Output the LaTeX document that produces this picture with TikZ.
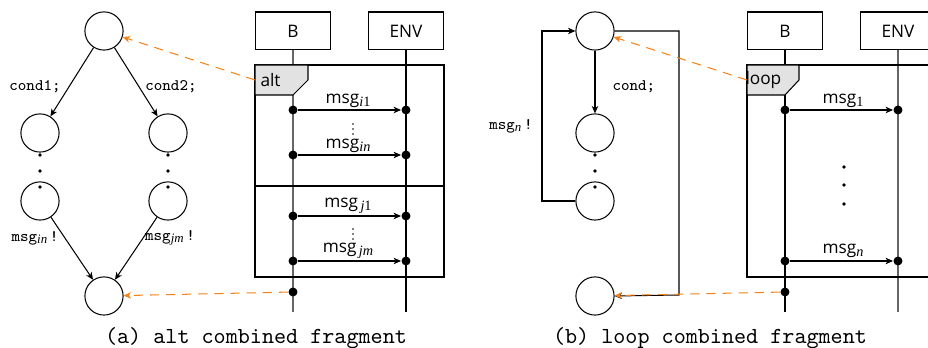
\documentclass[tikz,border=0pt]{standalone}
\usepackage{fontspec}
\newfontfamily\diagsans{Open Sans}
\newfontfamily\subserif{Liberation Serif}
\newcommand\msub[1]{\raisebox{-1.3pt}{\subserif\fontsize{6.2}{7}\selectfont #1}}
\newcommand\tsub[1]{\raisebox{-1.1pt}{\subserif\fontsize{5.6}{6}\selectfont #1}}
\usetikzlibrary{arrows.meta}
\definecolor{dashorange}{RGB}{245,130,25}
\definecolor{tagfill}{RGB}{226,226,226}
\begin{document}
\begin{tikzpicture}[x=0.4348pt,y=-0.4348pt,line width=0.45pt,
  state/.style={draw,circle,minimum size=16.6pt,inner sep=0pt},
  lifebox/.style={draw,minimum width=33pt,minimum height=16.5pt,inner sep=0pt,font=\diagsans\fontsize{7.5}{9}\selectfont},
  arr/.style={-{Stealth[length=3.2pt,width=2.8pt,inset=0.9pt]}},
  orangearr/.style={dashorange,dash pattern=on 4pt off 3pt,-{Stealth[length=3.2pt,width=2.8pt,inset=0.9pt]}},
  lifedot/.style={circle,fill,inner sep=0pt,minimum size=3.9pt},
  smalldot/.style={circle,fill,inner sep=0pt,minimum size=1.7pt},
  tinydot/.style={circle,fill,inner sep=0pt,minimum size=0.8pt},
  ttlab/.style={font=\ttfamily\scriptsize,inner sep=0pt},
  msglab/.style={font=\diagsans\fontsize{7.5}{9}\selectfont,inner sep=0pt},
  caption/.style={font=\ttfamily\normalsize,inner sep=0pt},
  grayline/.style={draw=black!60,line width=0.6pt}
]
\useasboundingbox (0,0) rectangle (928,348);

% ================= Panel (a): automaton =================
\node[state] (ta) at (104,31) {};
\node[state] (l1) at (40,133) {};
\node[state] (l2) at (40,201) {};
\node[state] (r1) at (168,133) {};
\node[state] (r2) at (168,201) {};
\node[state] (ba) at (104,296) {};
\foreach \y/\n in {155/1,171/2,187/3}{
  \node[smalldot] (dl\n) at (40,\y) {};
  \node[smalldot] (dr\n) at (168,\y) {};
}
\draw[arr] (ta) -- (l1);
\draw[arr] (ta) -- (r1);
\draw[arr] (l2) -- (ba);
\draw[arr] (r2) -- (ba);
\node[ttlab] (c1) at (35,87) {cond1;};
\node[ttlab] (c2) at (171,87) {cond2;};
\node[ttlab] (mi) at (35,238) {msg\tsub{\itshape in}\,!};
\node[ttlab] (mj) at (170,238) {msg\tsub{\itshape jm}\,!};

% ================= Panel (a): sequence diagram =================
\node[lifebox] (Ba) at (293,31) {B};
\node[lifebox] (Ea) at (406,31) {ENV};
\coordinate (Baend) at (293,312);
\coordinate (Eaend) at (406,312);
\draw[grayline] (Ba.south) -- (Baend);
\draw (Ea.south) -- (Eaend);
\draw (255,65) rectangle (444,277);
\draw[fill=tagfill] (255,65) -- (308,65) -- (308,80) -- (293,95) -- (255,95) -- cycle;
\node[msglab,anchor=west] (alttag) at (260,80) {alt};
\coordinate (altedge) at (255,80);
\draw (255,186) -- (443,186);
\foreach \y/\n in {110/1,155/2,216/3,261/4}{
  \node[lifedot] (bda\n) at (293,\y) {};
  \node[lifedot] (eda\n) at (406,\y) {};
  \draw[arr] (bda\n) -- (eda\n);
}
\node[msglab] (lai1) at (348,101) {msg\msub{\itshape i\upshape 1}};
\node[msglab] (lain) at (348,146) {msg\msub{\itshape in}};
\node[msglab] (laj1) at (348,206) {msg\msub{\,\itshape j\upshape 1}};
\node[msglab] (lajm) at (348,251) {msg\msub{\,\itshape jm}};
\foreach \y/\n in {124/1,129/2,134/3}{
  \node[tinydot] (va\n) at (353,\y) {};
}
\foreach \y/\n in {229/1,234/2,239/3}{
  \node[tinydot] (vb\n) at (353,\y) {};
}
\node[lifedot] (bdaf) at (293,292) {};
\draw[orangearr] (bdaf) -- (ba);
\draw[orangearr] (altedge) -- (ta);

\node[caption] (capa) at (256,338) {(a) alt combined fragment};

% ================= Panel (b): automaton =================
\node[state] (tb) at (595,31) {};
\node[state] (c2b) at (595,133) {};
\node[state] (c3b) at (595,201) {};
\node[state] (bb) at (595,296) {};
\foreach \y/\n in {155/1,171/2,187/3}{
  \node[smalldot] (db\n) at (595,\y) {};
}
\draw[arr] (tb) -- (c2b);
\node[ttlab,anchor=west] (condb) at (612,87) {cond;};
\coordinate (loopl1) at (542,201);
\coordinate (loopl2) at (542,31);
\draw[arr] (c3b.west) -- (loopl1) -- (loopl2) -- (tb.west);
\node[ttlab] (mn) at (511,126) {msg\tsub{\itshape n}\,!};
\coordinate (exit1) at (679,31);
\coordinate (exit2) at (679,295);
\draw[arr] (tb.east) -- (exit1) -- (exit2) -- (bb.east);

% ================= Panel (b): sequence diagram =================
\node[lifebox] (Bb) at (785,31) {B};
\node[lifebox] (Eb) at (898,31) {ENV};
\coordinate (Bbend) at (785,312);
\coordinate (Ebend) at (898,312);
\draw (Bb.south) -- (Bbend);
\draw[grayline] (Eb.south) -- (Ebend);
\draw (747,65) rectangle (936,277);
\draw[fill=tagfill] (747,65) -- (799,65) -- (799,80) -- (785,95) -- (747,95) -- cycle;
\node[msglab,anchor=west] (looptag) at (745,80) {loop};
\coordinate (loopedge) at (747,80);
\foreach \y/\n in {110/1,261/2}{
  \node[lifedot] (bdb\n) at (785,\y) {};
  \node[lifedot] (edb\n) at (898,\y) {};
  \draw[arr] (bdb\n) -- (edb\n);
}
\node[msglab] (lb1) at (843,101) {msg\msub{1}};
\node[msglab] (lbn) at (843,251) {msg\msub{\itshape n}};
\foreach \y/\n in {167/1,185/2,204/3}{
  \node[smalldot] (vc\n) at (844,\y) {};
}
\node[lifedot] (bdbf) at (785,292) {};
\draw[orangearr] (bdbf) -- (bb);
\draw[orangearr] (loopedge) -- (tb);

\node[caption] (capb) at (710,338) {(b) loop combined fragment};
\end{tikzpicture}
\end{document}
